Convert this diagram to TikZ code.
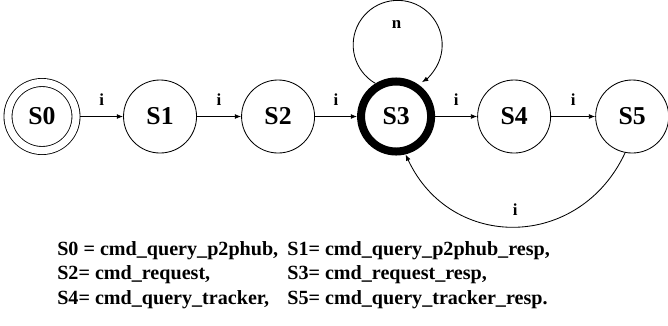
\documentclass[tikz,border=0pt]{standalone}
\usepackage{fontspec}
\setmainfont{Liberation Serif}
\usetikzlibrary{positioning,arrows.meta}
\begin{document}
\begin{tikzpicture}[x=0.025cm, y=0.025cm,
      node distance=2.95cm, on grid,
      state/.style={draw, circle, line width=0.6pt, minimum size=1.825cm, inner sep=0pt, font=\fontsize{18.3}{20}\selectfont\bfseries},
      startstate/.style={state, double, double distance=0.18cm, minimum size=1.7cm, outer sep=0.11cm},
      busystate/.style={state, line width=0.2cm, minimum size=1.75cm},
      lbl/.style={inner sep=0pt, font=\fontsize{12}{14}\selectfont\bfseries},
      legend/.style={inner sep=0pt, align=left, font=\fontsize{14.3}{17.5}\selectfont\bfseries},
      arr/.style={-{Latex[length=4.5pt, width=3.5pt]}, line width=0.6pt},]
  \useasboundingbox (0,0) rectangle (668,-325);
  \node[startstate] (s0) at (42,-116.5) {S0};
  \node[state, right=of s0] (s1) {S1};
  \node[state, right=of s1] (s2) {S2};
  \node[busystate, right=of s2] (s3) {S3};
  \node[state, right=of s3] (s4) {S4};
  \node[state, right=of s4] (s5) {S5};
  \draw[arr] (s0) -- node[lbl, above=7.5pt] (l1) {i} (s1);
  \draw[arr] (s1) -- node[lbl, above=7.5pt] (l2) {i} (s2);
  \draw[arr] (s2) -- node[lbl, above=7.5pt] (l3) {i} (s3);
  \draw[arr] (s3) -- node[lbl, above=7.5pt] (l5) {i} (s4);
  \draw[arr] (s4) -- node[lbl, above=7.5pt] (l6) {i} (s5);
  \draw[arr] (s3.122) arc[start angle=240, end angle=-57, radius=44.5] node[lbl, pos=0.5, below=14pt] (l4) {n};
  \draw[arr] (s5.-101) to[out=-115, in=-65, looseness=1.25] node[lbl, above=7.5pt] (l7) {i} (s3.-76);
  \node[legend, anchor=base west] (key) at (57,-255) {\begin{tabular}[t]{@{}p{5.75cm}@{}l@{}}
    S0 = cmd\_query\_p2phub, & S1= cmd\_query\_p2phub\_resp,\\
    S2= cmd\_request, & S3= cmd\_request\_resp,\\
    S4= cmd\_query\_tracker, & S5= cmd\_query\_tracker\_resp.
  \end{tabular}};
\end{tikzpicture}
\end{document}
